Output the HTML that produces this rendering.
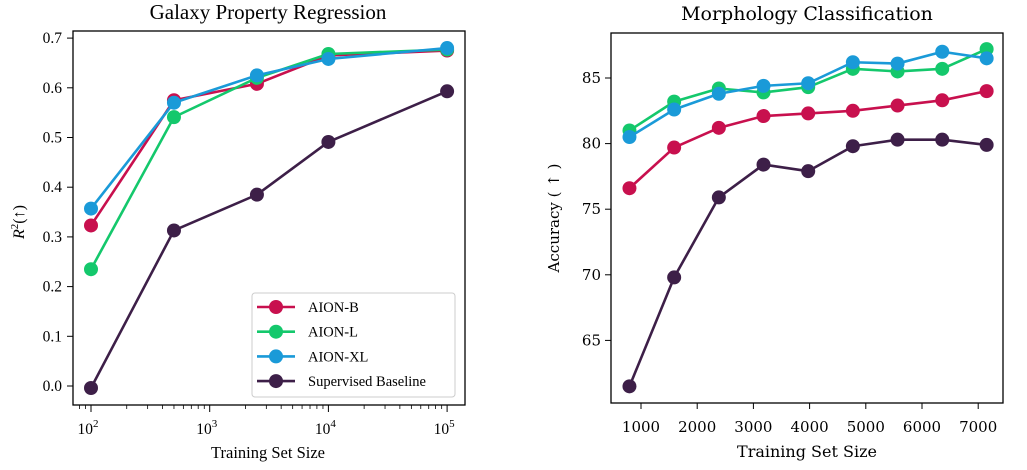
<!DOCTYPE html>
<html><head><meta charset="utf-8"><style>
html,body{margin:0;padding:0;background:#fff;}
svg{display:block;}
</style></head><body>
<svg id="fig" width="1027" height="470" xmlns="http://www.w3.org/2000/svg"></svg>
<script>
// Left chart data
const leftX = [100, 500, 2500, 10000, 100000];
const leftB = [0.323, 0.575, 0.608, 0.665, 0.675];
const leftL = [0.235, 0.541, 0.620, 0.668, 0.677];
const leftXL = [0.357, 0.570, 0.625, 0.658, 0.680];
const leftSup = [-0.004, 0.313, 0.385, 0.491, 0.593];
const leftYTicks = [0.0, 0.1, 0.2, 0.3, 0.4, 0.5, 0.6, 0.7];
const leftXTickExp = [2, 3, 4, 5];
// Right chart data
const rightX = [795, 1590, 2385, 3180, 3975, 4770, 5565, 6360, 7150];
const rightB = [76.6, 79.7, 81.2, 82.1, 82.3, 82.5, 82.9, 83.3, 84.0];
const rightL = [81.0, 83.2, 84.2, 83.9, 84.3, 85.7, 85.5, 85.7, 87.2];
const rightXL = [80.5, 82.6, 83.8, 84.4, 84.6, 86.2, 86.1, 87.0, 86.5];
const rightSup = [61.5, 69.8, 75.9, 78.4, 77.9, 79.8, 80.3, 80.3, 79.9];
const rightYTicks = [65, 70, 75, 80, 85];
const rightXTicks = [1000, 2000, 3000, 4000, 5000, 6000, 7000];
const seriesNames = ["AION-B", "AION-L", "AION-XL", "Supervised Baseline"];
const colors = ["#c8104e", "#14c86c", "#1a9ad8", "#3d1f48"];

const NS = "http://www.w3.org/2000/svg";
const svg = document.getElementById("fig");
function el(tag, attrs, parent, text) {
  const e = document.createElementNS(NS, tag);
  for (const k in attrs) e.setAttribute(k, attrs[k]);
  if (text !== undefined) e.textContent = text;
  (parent || svg).appendChild(e);
  return e;
}

// Left axes
const lx = v => 91 + (Math.log10(v) - 2) * 118.7;
const ly = v => 386 - v * 497;
const LF = '"Liberation Serif", serif';
const gL = el("g", {});


let t = el("text", {x: 268, y: 19, "text-anchor": "middle", "font-family": LF, "font-size": 21}, gL, "Galaxy Property Regression");


leftYTicks.forEach(v => {
  el("line", {x1: 67, x2: 73, y1: ly(v), y2: ly(v), stroke: "#000", "stroke-width": 1}, gL);
  const tt = el("text", {x: 62, y: ly(v) + 5, "text-anchor": "end", "font-family": LF, "font-size": 15.5}, gL, v.toFixed(1));
  
  
});
for (let e = 1; e <= 5; e++) for (let m = 2; m <= 9; m++) {
  const v = m * Math.pow(10, e);
  const x = lx(v);
  if (x < 73 || x > 465) continue;
  el("line", {x1: x, x2: x, y1: 405, y2: 409, stroke: "#000", "stroke-width": 0.8}, gL);
}
leftXTickExp.forEach(e => {
  const x = lx(Math.pow(10, e));
  el("line", {x1: x, x2: x, y1: 405, y2: 412, stroke: "#000", "stroke-width": 1}, gL);
  const tt = el("text", {x: x - 3, y: 434, "text-anchor": "middle", "font-family": LF, "font-size": 15.5}, gL);
  
  
  el("tspan", {}, tt, "10");
  el("tspan", {dy: -7, "font-size": 11}, tt, String(e));
});
t = el("text", {x: 268, y: 458, "text-anchor": "middle", "font-family": LF, "font-size": 16.5}, gL, "Training Set Size");


t = el("text", {x: 0, y: 0, transform: "translate(24,222) rotate(-90)", "text-anchor": "middle", "font-family": LF, "font-size": 16, "font-style": "italic"}, gL);


el("tspan", {}, t, "R");
el("tspan", {dy: -6, "font-size": 11, "font-style": "normal"}, t, "2");
el("tspan", {dy: 6, "font-style": "normal"}, t, "(↑)");

function drawSeries(g, xs, ys, fx, fy, color, name) {
  const pts = xs.map((x, i) => fx(x) + "," + fy(ys[i])).join(" ");
  const pl = el("polyline", {points: pts, fill: "none", stroke: color, "stroke-width": 2.6, "stroke-linejoin": "round"}, g);
  
  
  xs.forEach((x, i) => {
    const c = el("circle", {cx: fx(x), cy: fy(ys[i]), r: 7, fill: color}, g);
    
    
  });
}
[leftB, leftL, leftXL, leftSup].forEach((s, i) => drawSeries(gL, leftX, s, lx, ly, colors[i], seriesNames[i].toLowerCase().replace(/ /g, '-')));
el("rect", {x: 73, y: 31, width: 392, height: 374, fill: "none", stroke: "#000", "stroke-width": 1.3}, gL);

// Legend
const lg = el("g", {}, gL);


el("rect", {x: 252, y: 293, width: 203, height: 104, rx: 3, fill: "#fff", "fill-opacity": 0.9, stroke: "#ccc", "stroke-width": 1}, lg);
seriesNames.forEach((n, i) => {
  const y = 307 + i * 24.7;
  const e = el("g", {}, lg);
  
  
  el("line", {x1: 257, x2: 295, y1: y, y2: y, stroke: colors[i], "stroke-width": 2.6}, e);
  el("circle", {cx: 276, cy: y, r: 7, fill: colors[i]}, e);
  el("text", {x: 308, y: y + 5, "font-family": LF, "font-size": 14.5}, e, n);
});

// Right axes
const rx = v => 641 + (v - 1000) * 0.0562;
const ry = v => 78 + (85 - v) * 13.12;
const RF = '"DejaVu Serif", serif';
const gR = el("g", {});


t = el("text", {x: 807, y: 20, "text-anchor": "middle", "font-family": RF, "font-size": 19}, gR, "Morphology Classification");


rightYTicks.forEach(v => {
  el("line", {x1: 605, x2: 611, y1: ry(v), y2: ry(v), stroke: "#000", "stroke-width": 1}, gR);
  const tt = el("text", {x: 601, y: ry(v) + 5, "text-anchor": "end", "font-family": RF, "font-size": 15}, gR, String(v));
  
  
});
rightXTicks.forEach(v => {
  el("line", {x1: rx(v), x2: rx(v), y1: 403, y2: 409, stroke: "#000", "stroke-width": 1}, gR);
  const tt = el("text", {x: rx(v), y: 432, "text-anchor": "middle", "font-family": RF, "font-size": 15}, gR, String(v));
  
  
});
t = el("text", {x: 807, y: 457, "text-anchor": "middle", "font-family": RF, "font-size": 16}, gR, "Training Set Size");


t = el("text", {x: 0, y: 0, transform: "translate(559,218) rotate(-90)", "text-anchor": "middle", "font-family": RF, "font-size": 15}, gR, "Accuracy ( ↑ )");


[rightB, rightL, rightXL, rightSup].forEach((s, i) => drawSeries(gR, rightX, s, rx, ry, colors[i], seriesNames[i].toLowerCase().replace(/ /g, '-')));
el("rect", {x: 611, y: 33, width: 392, height: 370, fill: "none", stroke: "#000", "stroke-width": 1.3}, gR);
</script>
</body></html>
